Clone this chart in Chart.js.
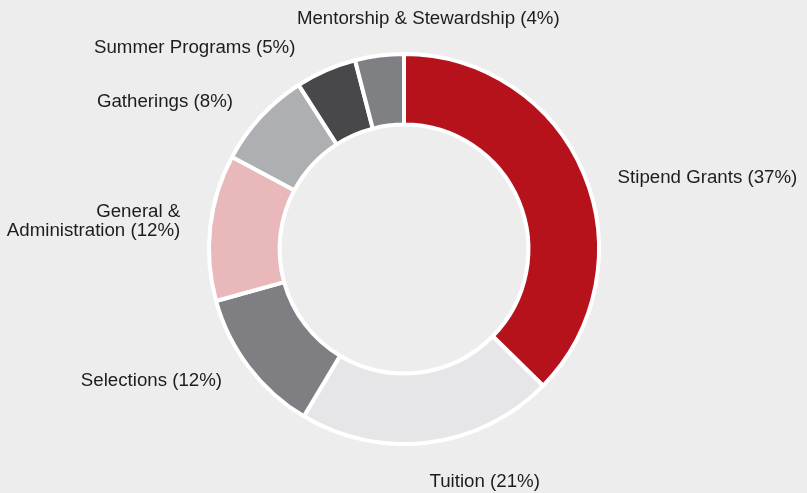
<!DOCTYPE html>
<html>
<head>
<meta charset="utf-8">
<script src="https://cdn.jsdelivr.net/npm/chart.js@4/dist/chart.umd.min.js"></script>
<style>
  html, body { margin: 0; padding: 0; background: #ededed; }
  #wrap { width: 807px; height: 493px; position: relative; }
</style>
</head>
<body>
<div id="wrap"><canvas id="donut"></canvas></div>
<script>
// spending breakdown, clockwise from 12 o'clock
const categories = [
  ["Stipend Grants (37%)"],
  ["Tuition (21%)"],
  ["Selections (12%)"],
  ["General &", "Administration (12%)"],
  ["Gatherings (8%)"],
  ["Summer Programs (5%)"],
  ["Mentorship & Stewardship (4%)"]
];
const shares = [37, 21, 12, 12, 8, 5, 4];
const sliceColors = ["#b5121b", "#e6e6e8", "#7f7f83", "#e9b8ba", "#aeafb2", "#48484a", "#7f8084"];

// label placement: alignment + nudge from the slice's mid-angle point
const labelAlign = ["left", "center", "right", "right", "right", "right", "center"];
const labelNudge = [[19, 16], [54, 29], [-14, 9], [-14, -9], [-16, 1], [-24, -3], [51, -16]];

const sliceLabels = {
  id: "sliceLabels",
  afterDraw(chart) {
    const ctx = chart.ctx;
    const arcs = chart.getDatasetMeta(0).data;
    ctx.save();
    ctx.font = "18.7px 'Liberation Sans', Arial, Helvetica, sans-serif";
    ctx.fillStyle = "#1d1d1b";
    ctx.textBaseline = "alphabetic";
    arcs.forEach((arc, i) => {
      const p = arc.getProps(["x", "y", "startAngle", "endAngle", "outerRadius"], true);
      const mid = (p.startAngle + p.endAngle) / 2;
      const r = p.outerRadius + 16;
      const x = p.x + Math.cos(mid) * r + labelNudge[i][0];
      const y = p.y + Math.sin(mid) * r + labelNudge[i][1];
      ctx.textAlign = labelAlign[i];
      categories[i].forEach((line, k) => {
        ctx.fillText(line, x, y + k * 19.5);
      });
    });
    ctx.restore();
  }
};

new Chart(document.getElementById("donut"), {
  type: "doughnut",
  data: {
    labels: categories.map(c => c.join(" ")),
    datasets: [{
      data: shares,
      backgroundColor: sliceColors,
      borderColor: "#ffffff",
      borderWidth: 4
    }]
  },
  options: {
    responsive: true,
    maintainAspectRatio: false,
    animation: false,
    cutout: "63.8%",
    layout: { padding: { top: 52, bottom: 47, left: 207, right: 206 } },
    plugins: {
      legend: { display: false },
      tooltip: { enabled: false }
    },
    events: []
  },
  plugins: [sliceLabels]
});
</script>
</body>
</html>
